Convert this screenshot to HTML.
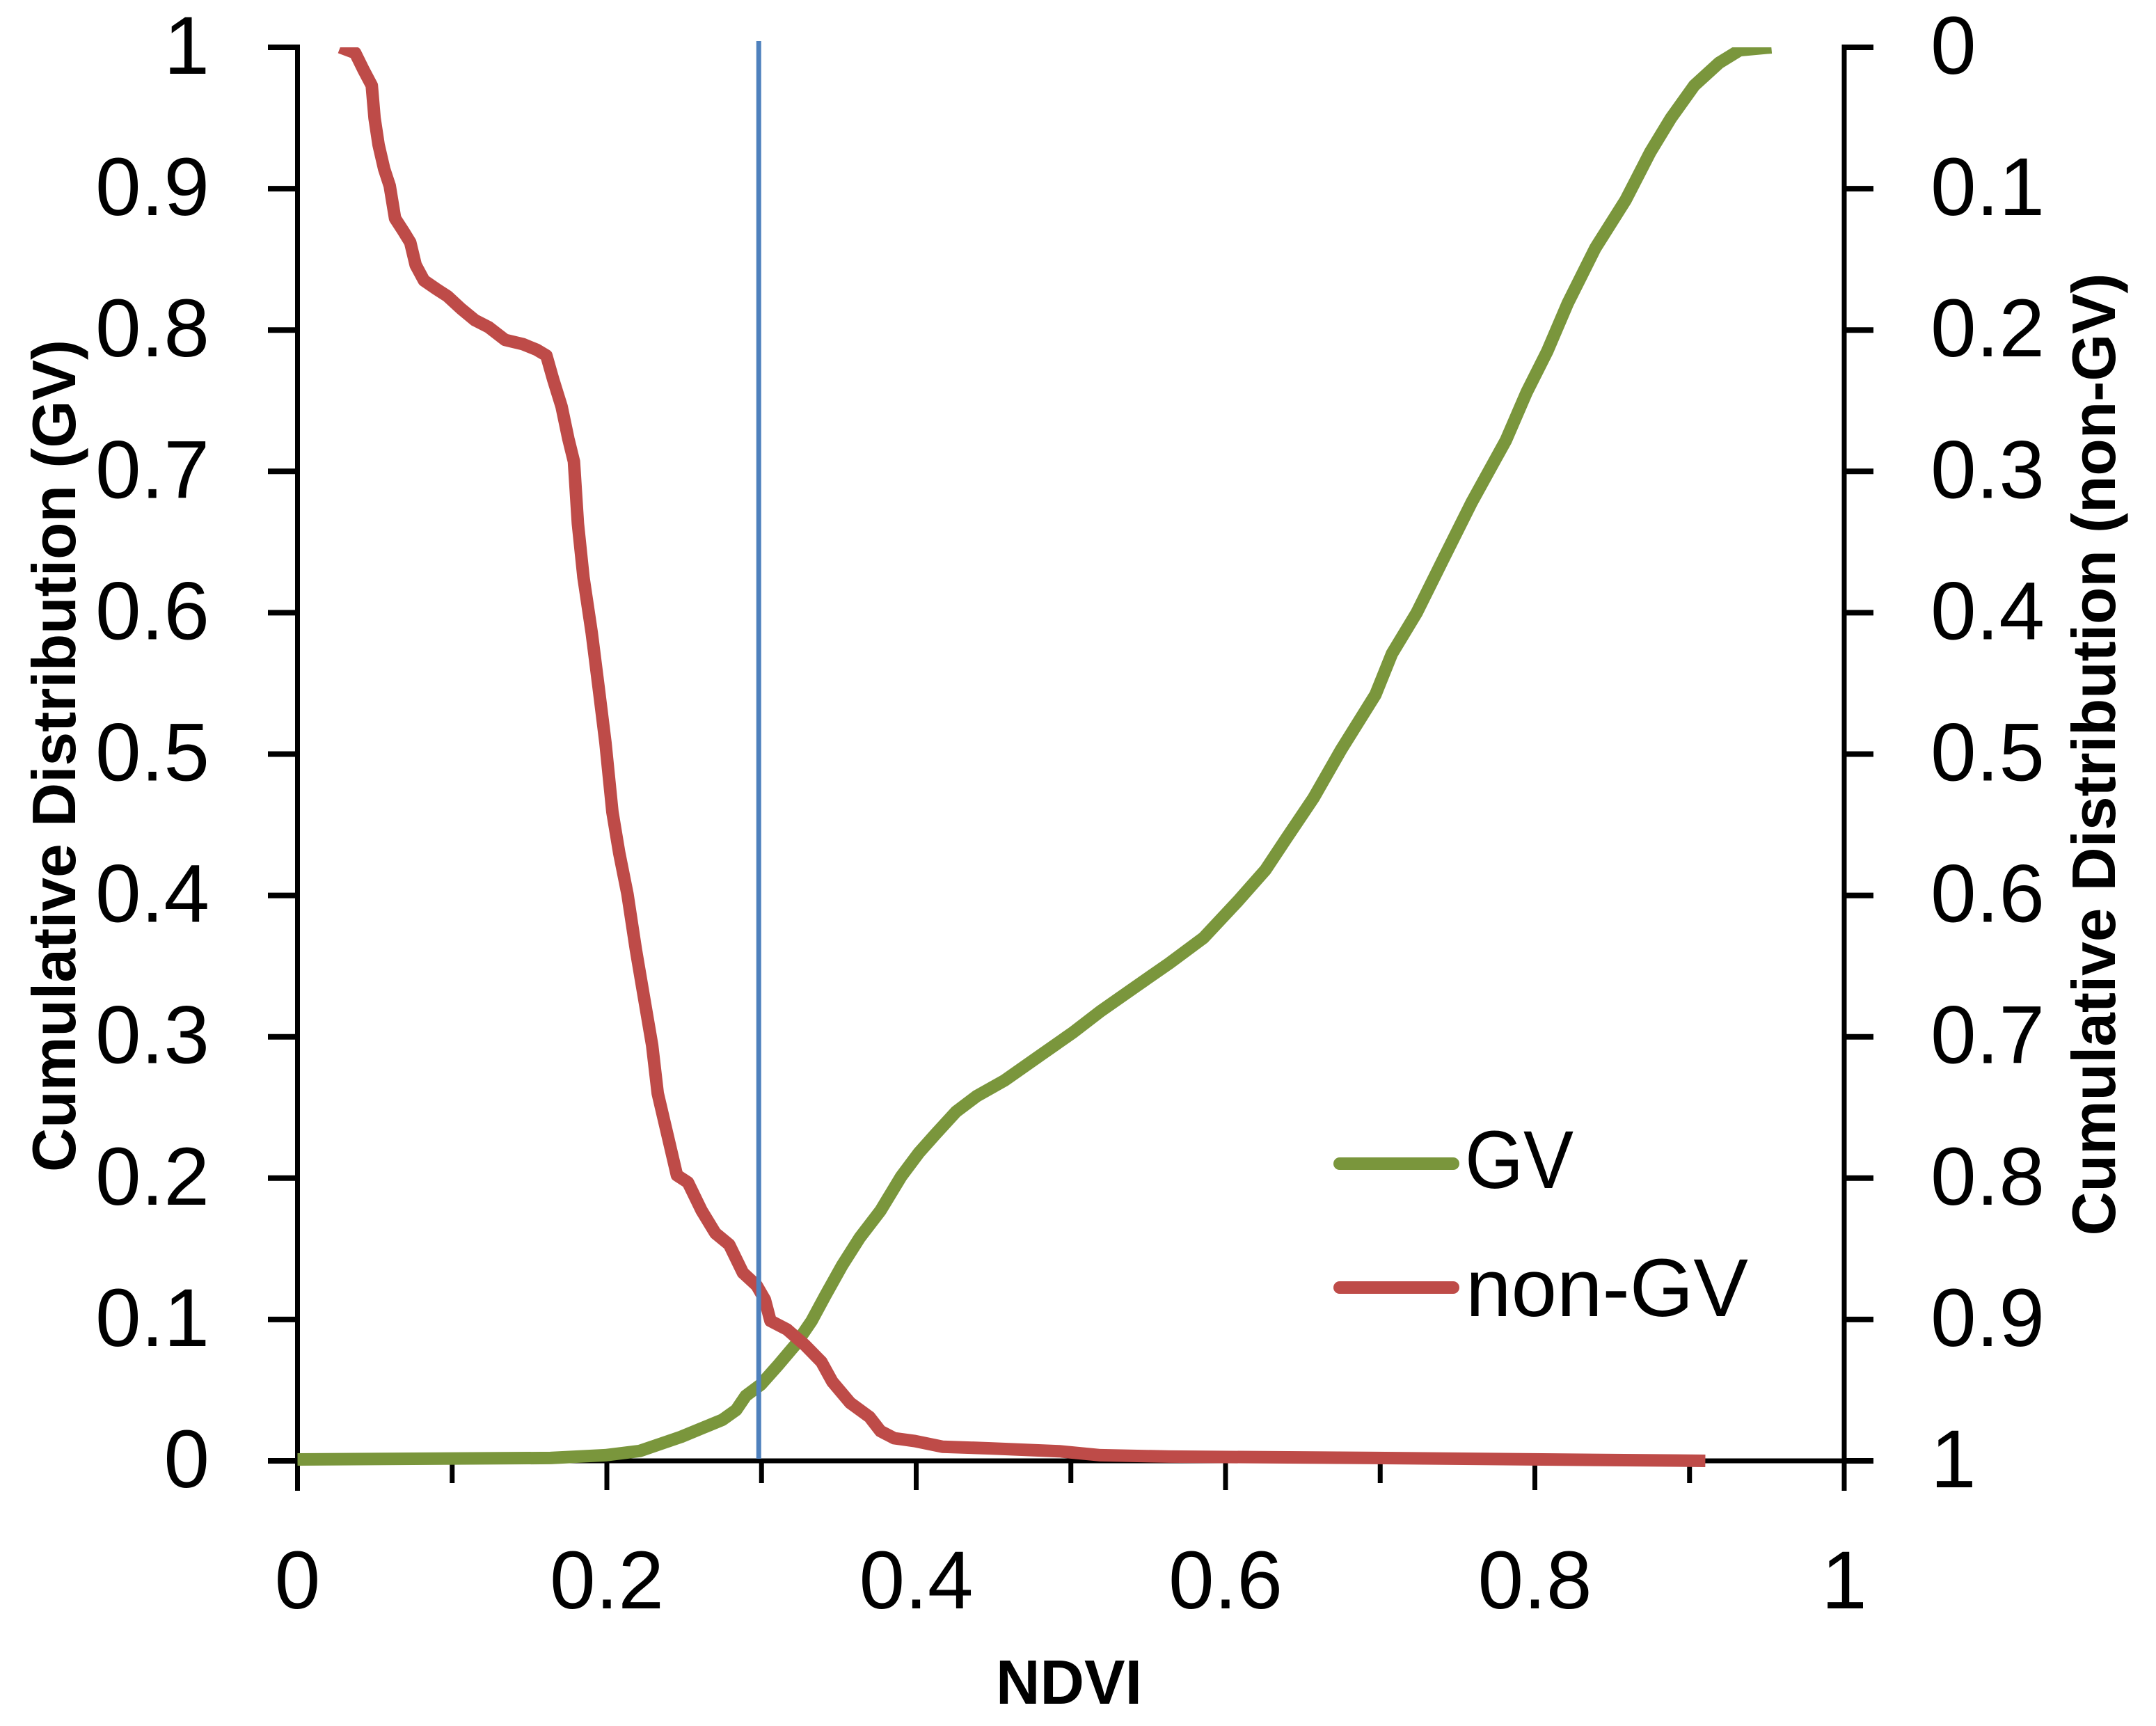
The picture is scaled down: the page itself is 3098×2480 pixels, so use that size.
<!DOCTYPE html>
<html lang="en">
<head>
<meta charset="utf-8">
<title>Cumulative Distribution of NDVI</title>
<style>
html,body{margin:0;padding:0;background:#fff}
svg{display:block}
text{font-family:"Liberation Sans",sans-serif;fill:#000}
</style>
</head>
<body>
<svg id="chart" xmlns="http://www.w3.org/2000/svg" width="3098" height="2480" viewBox="0 0 3098 2480">
<rect width="3098" height="2480" fill="#fff"/>
<defs><clipPath id="plot-clip"><rect x="427" y="68" width="2300" height="2060"/></clipPath></defs>
<g id="axes"></g>
<g id="series" clip-path="url(#plot-clip)"></g>
<text transform="translate(108,1086) rotate(-90)" text-anchor="middle" font-size="88" font-weight="bold" textLength="1196" lengthAdjust="spacingAndGlyphs">Cumulative Distribution (GV)</text>
<text transform="translate(3039,1084) rotate(-90)" text-anchor="middle" font-size="88" font-weight="bold" textLength="1383" lengthAdjust="spacingAndGlyphs">Cumulative Distribution (non-GV)</text>
<text x="1536" y="2448" text-anchor="middle" font-size="90" font-weight="bold" textLength="210" lengthAdjust="spacingAndGlyphs">NDVI</text>
<g>
<line x1="1925" y1="1672" x2="2088" y2="1672" stroke="#7a963c" stroke-width="18" stroke-linecap="round"/>
<text x="2105" y="1707" font-size="118" textLength="156" lengthAdjust="spacingAndGlyphs">GV</text>
<line x1="1925" y1="1850" x2="2088" y2="1850" stroke="#be4b48" stroke-width="18" stroke-linecap="round"/>
<text x="2106" y="1891" font-size="118" textLength="406" lengthAdjust="spacingAndGlyphs">non-GV</text>
</g>
</svg>
<script>
const xTickValues = [0, 0.1, 0.2, 0.3, 0.4, 0.5, 0.6, 0.7, 0.8, 0.9, 1];
const xTickLabels = ["0", "", "0.2", "", "0.4", "", "0.6", "", "0.8", "", "1"];
const yTickValues = [0, 0.1, 0.2, 0.3, 0.4, 0.5, 0.6, 0.7, 0.8, 0.9, 1];
const leftTickLabels = ["0", "0.1", "0.2", "0.3", "0.4", "0.5", "0.6", "0.7", "0.8", "0.9", "1"];
const rightTickLabels = ["1", "0.9", "0.8", "0.7", "0.6", "0.5", "0.4", "0.3", "0.2", "0.1", "0"];
const thresholdNdvi = 0.2982;

const gvX = [0,.1636,.199,.2213,.2347,.248,.2613,.2747,.2836,.2898,.2996,.3102,.3218,.3324,.3413,.352,.3636,.3769,.3902,.4018,.4124,.4258,.4391,.4569,.4791,.5013,.5191,.5413,.5636,.5858,.608,.6258,.6391,.6569,.6747,.6969,.7076,.7236,.7413,.7591,.7813,.7947,.808,.8213,.8391,.8587,.8747,.888,.9031,.9191,.9324,.9529];
const gvY = [.001,.002,.004,.007,.012,.017,.023,.029,.036,.046,.054,.067,.082,.099,.117,.138,.158,.177,.201,.218,.231,.247,.258,.269,.286,.303,.318,.335,.352,.37,.396,.418,.44,.469,.503,.542,.571,.6,.639,.678,.722,.756,.785,.819,.858,.892,.926,.95,.973,.989,.998,1];

const nonGvX = [.0276,.0373,.0427,.048,.0498,.0524,.056,.0596,.0631,.0684,.0729,.0764,.0818,.0898,.0969,.1058,.1147,.1236,.1342,.1458,.1547,.1609,.1653,.1707,.1751,.1787,.1813,.1849,.1902,.1947,.1991,.2036,.208,.2133,.2187,.224,.2293,.2329,.2391,.2453,.2524,.2613,.2702,.2791,.288,.2969,.3022,.3058,.3164,.328,.3387,.3458,.3573,.3698,.3769,.3858,.3991,.4169,.448,.4924,.5191,.5636,.6969,.9102];
const nonGvY = [1,.996,.984,.973,.95,.931,.914,.902,.879,.87,.862,.846,.835,.829,.824,.815,.807,.802,.793,.79,.786,.782,.765,.746,.723,.707,.663,.625,.586,.547,.508,.459,.43,.401,.362,.328,.294,.26,.231,.202,.197,.177,.161,.153,.133,.124,.114,.099,.093,.082,.07,.056,.041,.031,.021,.016,.014,.01,.0088,.0068,.004,.003,.002,0];

const NS = 'http://www.w3.org/2000/svg';
const xScale = v => 427.5 + v * 2222.5;
const yScale = v => 2099 - v * 2031;
const axes = document.getElementById('axes');
const series = document.getElementById('series');

function make(tag, attrs, parent) {
  const el = document.createElementNS(NS, tag);
  for (const k in attrs) el.setAttribute(k, attrs[k]);
  parent.appendChild(el);
  return el;
}
function stroke(x1, y1, x2, y2, w) {
  return make('line', { x1, y1, x2, y2, stroke: '#000', 'stroke-width': w }, axes);
}

let el;
el = stroke(xScale(0), yScale(1) - 4, xScale(0), 2142, 7);


el = stroke(xScale(1), yScale(1) - 4, xScale(1), 2142, 7);


el = stroke(xScale(0), yScale(0), xScale(1), yScale(0), 7);



yTickValues.forEach((v, i) => {
  const y = yScale(v);
  let t = stroke(385, y, xScale(0), y, 8);
  
  
  t = stroke(xScale(1), y, 2692, y, 8);
  
  
  let l = make('text', { x: 301, y: y + 38, 'text-anchor': 'end', 'font-size': 118 }, axes);
  l.textContent = leftTickLabels[i];
  
  
  l = make('text', { x: 2774, y: y + 38, 'font-size': 118 }, axes);
  l.textContent = rightTickLabels[i];
  
  
});

xTickValues.forEach((v, i) => {
  const x = xScale(v);
  const major = xTickLabels[i] !== '';
  const t = stroke(x, yScale(0), x, major ? 2141 : 2131, 7);
  
  
  if (major) {
    const l = make('text', { x, y: 2311, 'text-anchor': 'middle', 'font-size': 118 }, axes);
    l.textContent = xTickLabels[i];
    
    
  }
});

function pathFrom(xs, ys) {
  return xs.map((x, i) => (i ? 'L' : 'M') + xScale(x).toFixed(1) + ' ' + yScale(ys[i]).toFixed(1)).join('');
}
const gvLine = make('path', { d: pathFrom(gvX, gvY), fill: 'none', stroke: '#7a963c', 'stroke-width': 18, 'stroke-linejoin': 'round' }, series);


const nonGvLine = make('path', { d: pathFrom(nonGvX, nonGvY), fill: 'none', stroke: '#be4b48', 'stroke-width': 18, 'stroke-linejoin': 'round' }, series);



const thresholdLine = make('line', { x1: xScale(thresholdNdvi), y1: 59, x2: xScale(thresholdNdvi), y2: 2096, stroke: '#4f81bd', 'stroke-width': 7 }, document.getElementById('chart'));


</script>
</body>
</html>
